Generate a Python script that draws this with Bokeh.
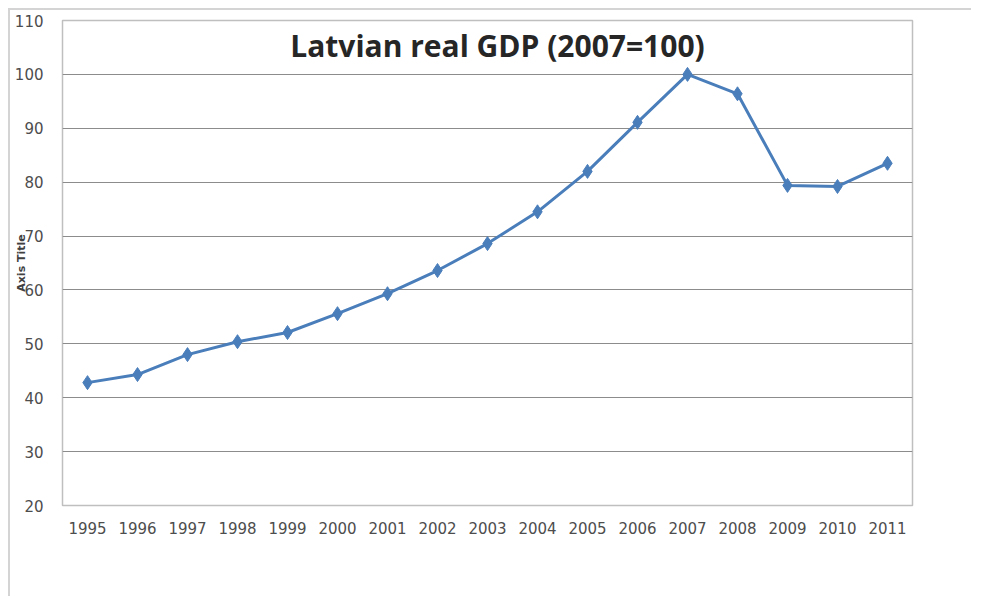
from bokeh.plotting import figure
from bokeh.models import Label, FactorRange, FixedTicker, Range1d
from bokeh.embed import file_html
from bokeh.resources import INLINE

years = ["1995", "1996", "1997", "1998", "1999", "2000", "2001", "2002", "2003",
         "2004", "2005", "2006", "2007", "2008", "2009", "2010", "2011"]
gdp = [42.8, 44.3, 48.0, 50.4, 52.1, 55.6, 59.3, 63.6, 68.6,
       74.5, 82.0, 91.1, 100.0, 96.4, 79.4, 79.2, 83.5]
y_ticks = [20, 30, 40, 50, 60, 70, 80, 90, 100, 110]

p = figure(x_range=FactorRange(*years), y_range=Range1d(20, 110),
           width=963, height=588, output_backend="svg", toolbar_location=None,
           min_border_left=52, min_border_top=10, min_border_right=61, min_border_bottom=93)
p.styles = {"border-top": "2px solid #d4d4d4", "border-left": "2px solid #d4d4d4",
            "margin-left": "8px", "margin-top": "8px"}

p.line(years, gdp, line_color="#4a7ebb", line_width=3)
p.scatter(years, gdp, marker="diamond", size=14, fill_color="#4a7ebb", line_color="#4a7ebb")

p.outline_line_color = "#bfbfbf"
p.outline_line_width = 1.5
p.xgrid.grid_line_color = None
p.ygrid.grid_line_color = "#8c8c8c"
p.ygrid.grid_line_width = 1
p.yaxis.ticker = FixedTicker(ticks=y_ticks)

for ax in (p.xaxis[0], p.yaxis[0]):
    ax.axis_line_color = None
    ax.major_tick_line_color = None
    ax.minor_tick_line_color = None
    ax.major_label_text_font = "DejaVu Sans"
    ax.major_label_text_font_size = "15px"
    ax.major_label_text_color = "#4d4d4d"
p.xaxis.major_label_standoff = 10
p.yaxis.major_label_standoff = 13

p.yaxis.axis_label = "Axis Title"
p.yaxis.axis_label_text_font = "DejaVu Sans"
p.yaxis.axis_label_text_font_size = "11px"
p.yaxis.axis_label_text_font_style = "bold"
p.yaxis.axis_label_text_color = "#404040"
p.yaxis.axis_label_standoff = -16

p.add_layout(Label(x=435, y=460, x_units="screen", y_units="screen",
                   text="Latvian real GDP (2007=100)", text_font="Open Sans",
                   text_font_size="30px", text_font_style="bold", text_color="#262626",
                   text_align="center", text_baseline="middle"))

open("out.html", "w").write(file_html(p, INLINE))
